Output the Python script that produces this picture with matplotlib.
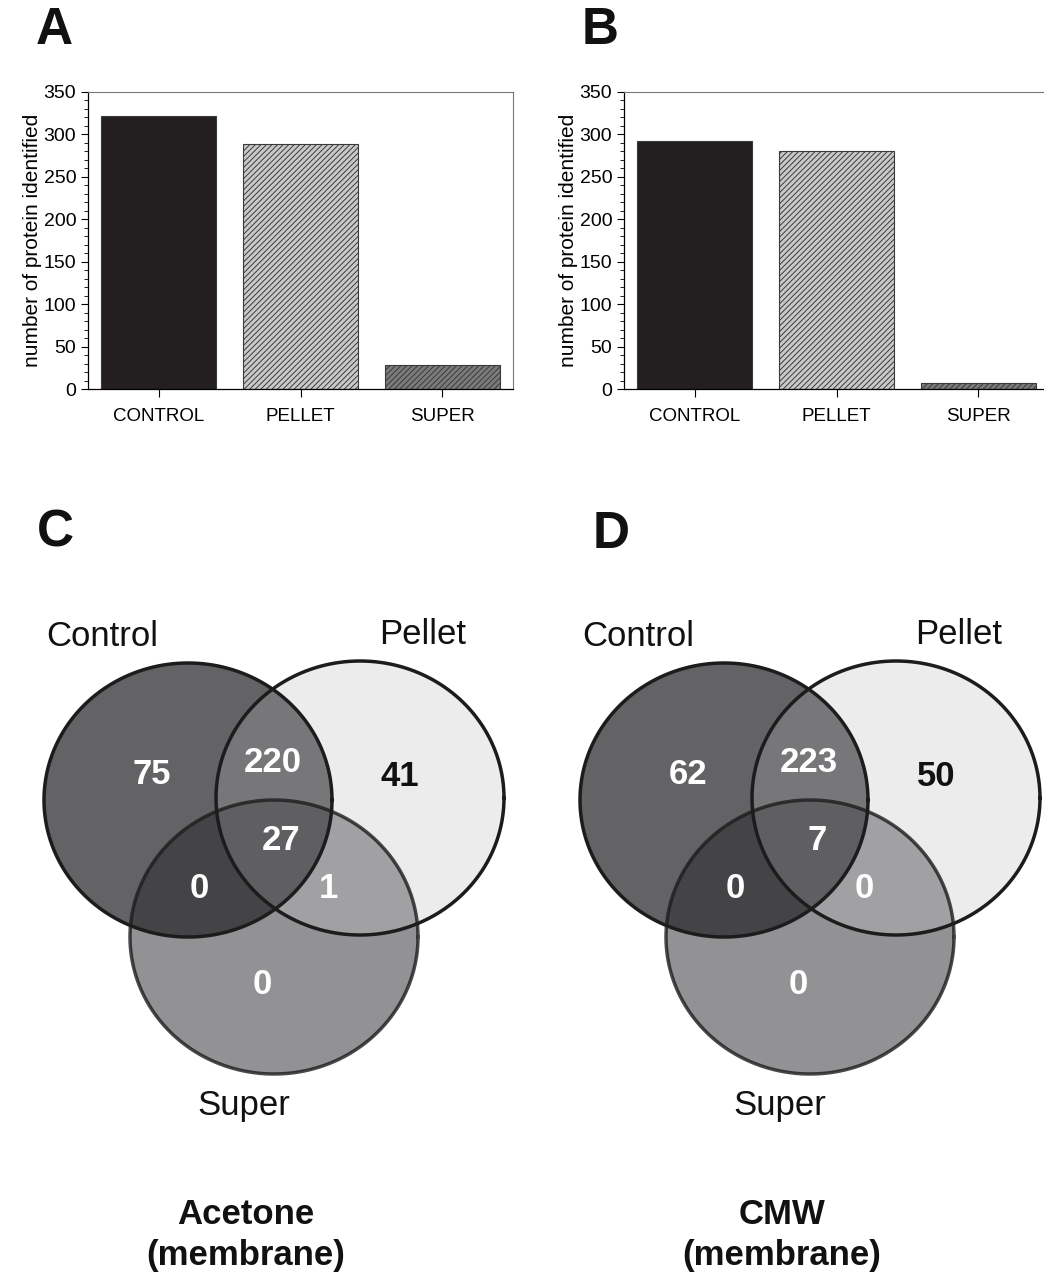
import numpy as np
import matplotlib
matplotlib.use("Agg")
import matplotlib.pyplot as plt
from matplotlib.ticker import MultipleLocator

plt.rcParams['font.family'] = ['Liberation Sans', 'DejaVu Sans']
plt.rcParams['hatch.linewidth'] = 0.7

# bar chart data
categories = ["CONTROL", "PELLET", "SUPER"]
acetone_counts = [322, 289, 28]
cmw_counts = [292, 280, 7]

# venn data: only A, only B, only C, AB, AC, BC, ABC
set_names = ["Control", "Pellet", "Super"]
acetone_venn = [75, 41, 0, 220, 0, 1, 27]
cmw_venn = [62, 50, 0, 223, 0, 0, 7]

W, H = 1044, 1276
fig = plt.figure(figsize=(W / 100, H / 100), dpi=100)

bar_fill = ["#231f20", "#c9c9c9", "#7b7b7b"]
bar_hatch = [None, "//////", "//////"]


def bar_panel(left_px, values):
    ax = fig.add_axes([left_px / W, 1 - 389 / H, 425 / W, 297 / H])
    for i, v in enumerate(values):
        ax.bar(i, v, width=0.81, color=bar_fill[i], edgecolor="#3a3a3a",
               hatch=bar_hatch[i], linewidth=0.8)
    ax.set_xlim(-0.5, 2.5)
    ax.set_ylim(0, 350)
    ax.set_xticks(range(len(categories)))
    ax.set_xticklabels(categories, fontsize=13.5)
    ax.yaxis.set_major_locator(MultipleLocator(50))
    ax.yaxis.set_minor_locator(MultipleLocator(10))
    ax.tick_params(axis="y", labelsize=14, length=5, width=0.8)
    ax.tick_params(axis="y", which="minor", length=3, width=0.6)
    ax.tick_params(axis="x", length=6, width=0.8, pad=8)
    ax.set_ylabel("number of protein identified", fontsize=15, labelpad=1)
    for s in ["top", "right"]:
        ax.spines[s].set_color("#777777")
        ax.spines[s].set_linewidth(0.8)
    for s in ["left", "bottom"]:
        ax.spines[s].set_linewidth(0.9)
    return ax


bar_panel(88, acetone_counts)
bar_panel(624, cmw_counts)

# venn panels drawn in pixel coordinates
vax = fig.add_axes([0, 0, 1, 1], zorder=-1)
vax.set_xlim(0, W)
vax.set_ylim(H, 0)
vax.axis("off")


def ellipse(cx, cy, rx=144, ry=137, n=360):
    t = np.linspace(0, 2 * np.pi, n, endpoint=False)
    return np.column_stack([cx + rx * np.cos(t), cy + ry * np.sin(t)])


def clip(subject, clipper):
    # Sutherland-Hodgman for convex clip polygon
    def inside(p, a, b):
        return (b[0] - a[0]) * (p[1] - a[1]) - (b[1] - a[1]) * (p[0] - a[0]) >= 0

    def inter(p1, p2, a, b):
        d1 = p2 - p1
        d2 = b - a
        den = d1[0] * d2[1] - d1[1] * d2[0]
        t = ((a[0] - p1[0]) * d2[1] - (a[1] - p1[1]) * d2[0]) / den
        return p1 + t * d1

    out = list(subject)
    m = len(clipper)
    for i in range(m):
        a, b = clipper[i], clipper[(i + 1) % m]
        inp = out
        out = []
        if not inp:
            break
        s = inp[-1]
        for e in inp:
            if inside(e, a, b):
                if not inside(s, a, b):
                    out.append(inter(s, e, a, b))
                out.append(e)
            elif inside(s, a, b):
                out.append(inter(s, e, a, b))
            s = e
    return np.array(out)


single_col = ["#636366", "#ececec", "#929295"]
pair_col = {(0, 1): "#77777a", (0, 2): "#444447", (1, 2): "#a1a1a4"}
triple_col = "#5f5f62"


def venn_panel(dx, counts, title):
    centers = [(188 + dx, 800), (360 + dx, 798), (274 + dx, 937)]
    polys = [ellipse(cx, cy) for cx, cy in centers]
    for p, c in zip(polys, single_col):
        vax.fill(p[:, 0], p[:, 1], color=c, lw=0)
    for (i, j), c in pair_col.items():
        q = clip(polys[i], polys[j])
        vax.fill(q[:, 0], q[:, 1], color=c, lw=0)
    q = clip(clip(polys[0], polys[1]), polys[2])
    vax.fill(q[:, 0], q[:, 1], color=triple_col, lw=0)
    for p, a in zip(polys, [1.0, 1.0, 0.8]):
        pc = np.vstack([p, p[:1]])
        vax.plot(pc[:, 0], pc[:, 1], color="#1c1c1c", lw=2.5, alpha=a)

    pos = [(152, 775), (400, 777), (262, 985), (273, 762), (199, 888), (328, 888), (281, 841)]
    for k, (x, y) in enumerate(pos):
        col = "#111111" if k == 1 else "white"
        vax.text(x + dx, y, str(counts[k]), fontsize=25, fontweight="bold",
                 color=col, ha="center", va="center")

    label_pos = [(102, 636), (423, 634), (244, 1105)]
    for name, (x, y) in zip(set_names, label_pos):
        vax.text(x + dx, y, name, fontsize=25, ha="center", va="center", color="#111111")

    vax.text(246 + dx, 1235, title, fontsize=25, fontweight="bold", ha="center",
             va="center", linespacing=1.3, color="#111111")


venn_panel(0, acetone_venn, "Acetone\n(membrane)")
venn_panel(536, cmw_venn, "CMW\n(membrane)")

# panel letters
for letter, x, y in [("A", 54, 30), ("B", 600, 30), ("C", 55, 533), ("D", 611, 534)]:
    fig.text(x / W, 1 - y / H, letter, fontsize=37, fontweight="bold",
             ha="center", va="center", color="#111111")

fig.savefig("out.png", dpi=100)
